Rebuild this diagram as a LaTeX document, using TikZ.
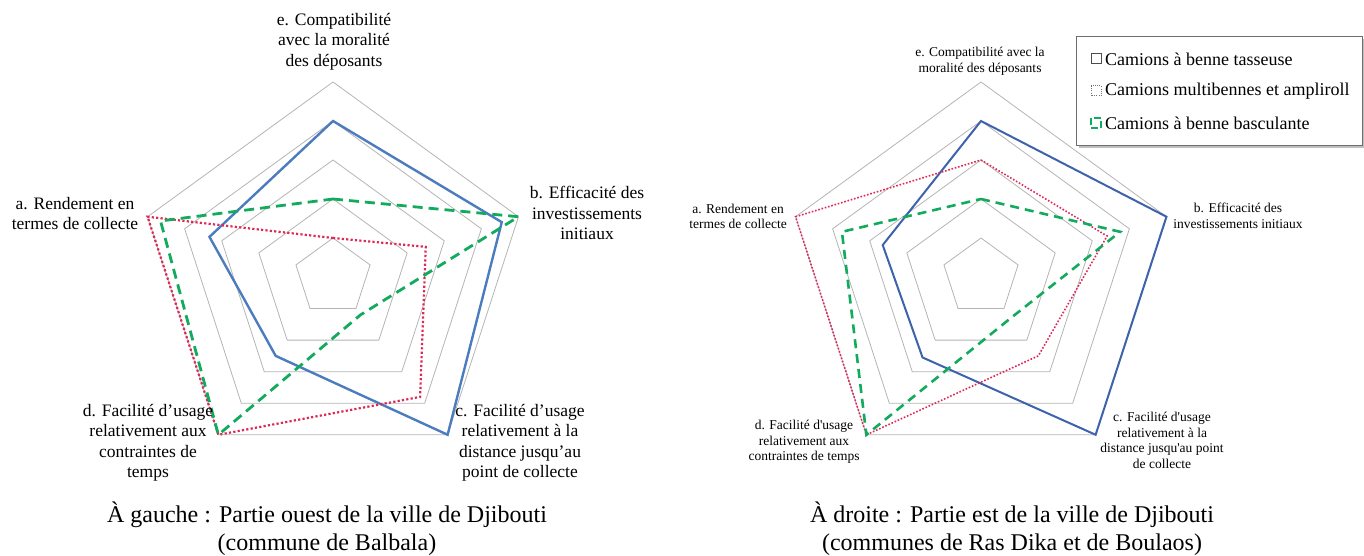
\documentclass[tikz,border=0pt]{standalone}
\usepackage{fontspec}
\setmainfont{Liberation Serif}
\definecolor{gridgray}{RGB}{180,180,180}
\definecolor{serieblue}{RGB}{74,124,190}
\definecolor{serieblueB}{RGB}{62,98,172}
\definecolor{seriered}{RGB}{222,40,88}
\definecolor{seriegreen}{RGB}{18,170,92}
\definecolor{framegray}{RGB}{110,110,110}

% one radar polygon: style, then values on axes a, b, c, d, e (scale 0..5)
\newcommand\radarline[6]{%
  \draw[#1] (90:{#6*39}) -- (18:{#3*39}) -- (-54:{#4*39}) -- (-126:{#5*39})
    -- (162:{#2*39}) -- cycle;}
% the five concentric pentagons of the grid
\newcommand\radargrid{%
  \foreach \k in {1,...,5}
    \draw[grid] (90:{\k*39}) -- (18:{\k*39}) -- (-54:{\k*39}) -- (-126:{\k*39})
      -- (162:{\k*39}) -- cycle;}

\begin{document}
\begin{tikzpicture}[x=1pt,y=-1pt,
  grid/.style={draw=gridgray, line width=0.8pt},
  tasseuse/.style={draw=serieblue, line width=2.4pt, line join=miter},
  multi/.style={draw=seriered, line width=2.2pt, dash pattern=on 2.2pt off 2.2pt},
  bascule/.style={draw=seriegreen, line width=2.8pt, dash pattern=on 10pt off 6pt},
  tasseuseB/.style={draw=serieblueB, line width=2pt, line join=miter},
  multiB/.style={draw=seriered, line width=1.6pt, dash pattern=on 1.6pt off 1.8pt},
  basculeB/.style={draw=seriegreen, line width=2.6pt, dash pattern=on 9pt off 6pt},
  biglabel/.style={align=center, inner sep=0pt, font=\fontsize{17.5}{20.5}\selectfont},
  smalllabel/.style={align=center, inner sep=0pt, font=\fontsize{13.5}{15.5}\selectfont},
  caption/.style={align=center, inner sep=0pt, font=\fontsize{24}{28}\selectfont},
  legendtext/.style={anchor=west, inner sep=0pt, font=\fontsize{18}{20}\selectfont},
]
\useasboundingbox (0,0) rectangle (1364,556);

% ---------- west part: Balbala ----------
\begin{scope}[shift={(333,277)}, yscale=-1]
  \radargrid
  \radarline{tasseuse}{3.33}{4.55}{5}{2.5}{4}
  \radarline{multi}{5}{2.5}{3.8}{5}{1}
  \radarline{bascule}{4.65}{5}{1.2}{5}{2}
\end{scope}

\node[biglabel] (le) at (334,41.5) {e. Compatibilité\\avec la moralité\\des déposants};
\node[biglabel] (la) at (75,213.5) {a. Rendement en\\termes de collecte};
\node[biglabel] (lb) at (587,213) {b. Efficacité des\\investissements\\initiaux};
\node[biglabel] (ld) at (148,443) {d. Facilité d’usage\\relativement aux\\contraintes de\\temps};
\node[biglabel] (lc) at (520,443) {c. Facilité d’usage\\relativement à la\\distance jusqu’au\\point de collecte};
\node[caption] (lcap) at (327,528.5) {À gauche : Partie ouest de la ville de Djibouti\\(commune de Balbala)};

% ---------- east part: Ras Dika and Boulaos ----------
\begin{scope}[shift={(981,277)}, yscale=-1]
  \radargrid
  \radarline{tasseuseB}{2.65}{5}{5}{2.55}{4}
  \radarline{multiB}{5}{3.4}{2.5}{5}{3}
  \radarline{basculeB}{3.75}{3.75}{1.3}{5}{2}
\end{scope}

\node[smalllabel] (re) at (980,61) {e. Compatibilité avec la\\moralité des déposants};
\node[smalllabel] (ra) at (738,216.5) {a. Rendement en\\termes de collecte};
\node[smalllabel] (rb) at (1238,216) {b. Efficacité des\\investissements initiaux};
\node[smalllabel] (rd) at (804,442) {d. Facilité d\textquotesingle usage\\relativement aux\\contraintes de temps};
\node[smalllabel] (rc) at (1162,440.5) {c. Facilité d\textquotesingle usage\\relativement à la\\distance jusqu\textquotesingle au point\\de collecte};
\node[caption] (rcap) at (1012,528.5) {À droite : Partie est de la ville de Djibouti\\(communes de Ras Dika et de Boulaos)};

% ---------- legend ----------
\fill[black!25] (1079,39) rectangle (1364,148);
\draw[framegray, fill=white, line width=0.9pt] (1076,36) rectangle (1362,145);
\draw[black!70, line width=1pt] (1091,54) rectangle (1101,64);
\node[legendtext] (k1) at (1105,59) {Camions à benne tasseuse};
\draw[black!55, line width=1pt, dash pattern=on 1pt off 1.2pt] (1091,86) rectangle (1101,96);
\node[legendtext] (k2) at (1105,91) {Camions multibennes et ampliroll};
\draw[seriegreen, line width=1.4pt, dash pattern=on 7pt off 3pt] (1091,118) rectangle (1101,128);
\node[legendtext] (k3) at (1105,123) {Camions à benne basculante};
\end{tikzpicture}
\end{document}
